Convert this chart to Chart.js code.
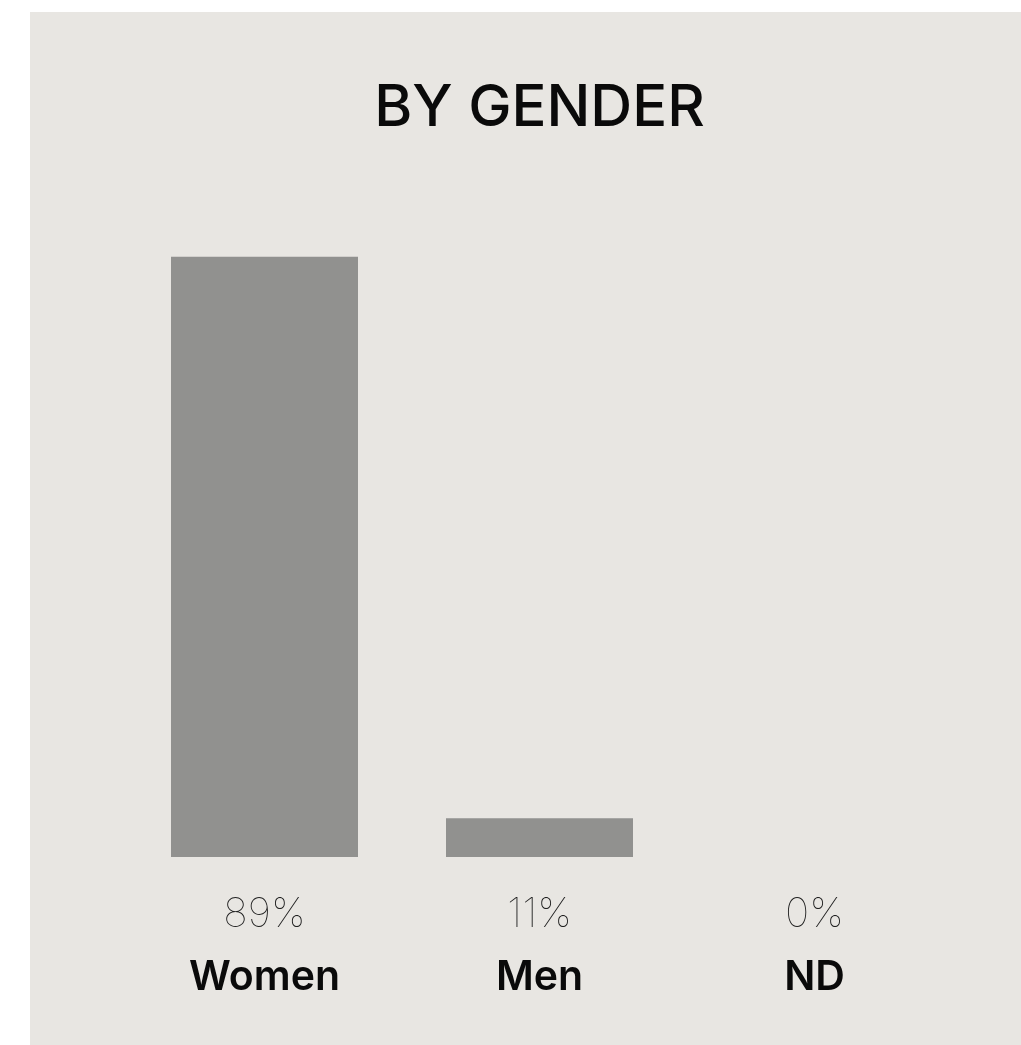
<!DOCTYPE html>
<html>
<head>
<meta charset="utf-8">
<script src="https://cdn.jsdelivr.net/npm/chart.js@4.4.0/dist/chart.umd.min.js"></script>
<style>
  html, body { margin: 0; padding: 0; background: #ffffff; }
  .panel { position: absolute; left: 30px; top: 12px; width: 991px; height: 1033px; background: #e8e6e2; }
  canvas { display: block; }
</style>
</head>
<body>
<div class="panel"><canvas id="chart" width="991" height="1033"></canvas></div>
<script>
const categories = ["Women", "Men", "ND"];
const shares = [89, 11, 0];
const percentLabels = ["89%", "11%", "0%"];

const ctx = document.getElementById("chart").getContext("2d");
const chart = new Chart(ctx, {
    type: "bar",
    data: {
        labels: categories,
        datasets: [{
            data: shares,
            backgroundColor: "#91918f",
            categoryPercentage: 1,
            barPercentage: 0.68,
        }],
    },
    options: {
        responsive: false,
        animation: false,
        layout: { padding: { top: 62, left: 97, right: 69, bottom: 45 } },
        plugins: {
            legend: { display: false },
            tooltip: { enabled: false },
            title: {
                display: true,
                text: "BY GENDER",
                color: "#0a0a0a",
                font: { family: "Inter", size: 58, weight: 500 },
                padding: { top: 0, bottom: 113 },
            },
        },
        scales: {
            y: { display: false, min: 5.6, max: 89 },
            x: {
                position: "bottom",
                weight: 1,
                grid: { display: false, drawTicks: false },
                border: { display: false },
                afterFit: (axis) => { axis.height = 79; },
                ticks: {
                    padding: 33,
                    color: "#222222",
                    font: { family: "Inter", size: 41, weight: 100 },
                    callback: (v, i) => percentLabels[i],
                },
            },
            x2: {
                position: "bottom",
                weight: 2,
                labels: categories,
                grid: { display: false, drawTicks: false },
                border: { display: false },
                afterFit: (axis) => { axis.height = 64; },
                ticks: {
                    padding: 17,
                    color: "#0a0a0a",
                    font: { family: "Inter", size: 41, weight: 600 },
                },
            },
        },
    },
});
</script>
</body>
</html>
